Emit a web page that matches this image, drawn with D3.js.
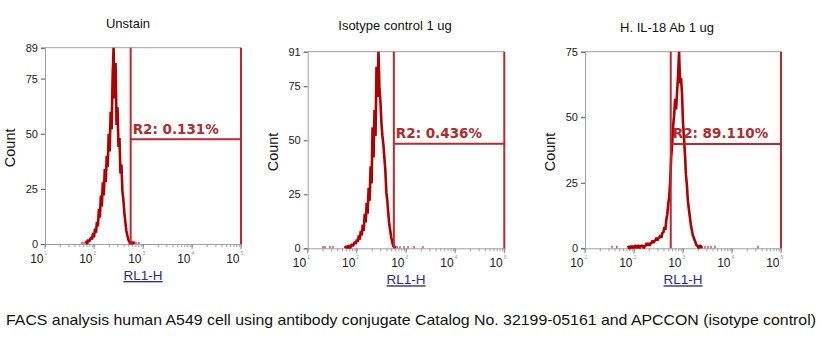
<!DOCTYPE html>
<meta charset="utf-8">
<style type="text/css">
    body {
        margin: 0;
        background: #fff;
    }
    svg {
        display: block;
    }
    text {
        font-family: "Liberation Sans", Arial, sans-serif;
    }
</style>
<body>
<script src="https://cdn.jsdelivr.net/npm/d3@7"></script>
<script>
// Panel texts
var titles = ["Unstain", "Isotype control 1 ug", "H. IL-18 Ab 1 ug"];
var yMax = [89, 91, 75];
var yTicks = [[0, 25, 50, 75, 89], [0, 25, 50, 75, 91], [0, 25, 50, 75]];
var xDecades = [1, 2, 3, 4, 5];
var xLabel = "RL1-H";
var yLabel = "Count";

// R2 gate: start / end on RL1-H, marker level in counts
var gateStart = [560, 566, 562];
var gateEnd = 100000;
var gateLevel = [47.5, 48.4, 39.8];
var gateLabels = ["R2: 0.131%", "R2: 0.436%", "R2: 89.110%"];

// Histogram bins (log10 of RL1-H, step 0.02 decade)
var binStep = 0.02;
var binStart = [1.82, 1.76, 1.88];
var countsUnstain = [1, 1, 0, 2, 1, 2, 3, 2, 5, 3, 7, 5, 10, 8, 16, 12, 22, 17, 28, 22,
    34, 28, 40, 35, 50, 42, 60, 52, 76, 89, 66, 82, 54, 62, 44, 48, 32, 36, 24, 20,
    14, 10, 6, 4, 2, 1, 0, 1, 0, 1, 0];
var countsIsotype = [0, 1, 0, 1, 1, 0, 1, 2, 1, 2, 3, 2, 4, 3, 6, 4, 8, 6, 11, 8,
    16, 12, 21, 16, 28, 22, 38, 30, 56, 42, 64, 52, 84, 70, 91, 74, 68, 58, 52, 48,
    42, 36, 26, 22, 16, 11, 8, 5, 3, 1, 1, 0];
var countsIL18 = [1, 0, 0, 1, 0, 1, 0, 1, 1, 0, 1, 1, 0, 1, 1, 1, 0, 1, 1, 2,
    1, 2, 1, 2, 2, 3, 2, 3, 3, 4, 3, 4, 4, 5, 4, 6, 6, 8, 7, 11,
    13, 17, 20, 26, 35, 40, 47, 51, 57, 53, 60, 66, 75, 63, 65, 59, 48, 42, 36, 28,
    24, 18, 15, 12, 9, 7, 5, 4, 3, 2, 1, 1, 0, 1, 1, 0];
var counts = [countsUnstain, countsIsotype, countsIL18];

// Single events away from the peak (log10 of RL1-H)
var sparseUnstain = [1.755, 1.796, 2.857, 2.918];
var sparseIsotype = [1.311, 1.352, 1.454, 1.515, 2.817, 2.878, 2.959, 3.041, 3.163, 3.346];
var sparseIL18 = [1.551, 1.65, 3.388, 3.449, 3.51, 3.571, 3.653, 4.531];
var sparse = [sparseUnstain, sparseIsotype, sparseIL18];

var caption = "FACS analysis human A549 cell using antibody conjugate Catalog No. 32199-05161 and APCCON (isotype control)";

// Layout
var panels = [
    {left: 45,    top: 47.7, bottom: 244,   width: 196,   titleX: 128, titleY: 28},
    {left: 307.7, top: 51.7, bottom: 248.3, width: 196.6, titleX: 395, titleY: 29.5},
    {left: 585,   top: 51.7, bottom: 248.3, width: 196,   titleX: 667, titleY: 32}
];

var histColor = "#b00000",
    gateColor = "#c0262c",
    axisColor = "#a0a0a0";

var svg = d3.select("body")
    .append("svg")
    .attr("width", 835)
    .attr("height", 353);

panels.forEach(function(p, k) {
    var x = d3.scaleLog().domain([10, 100000]).range([p.left, p.left + p.width]);
    var y = d3.scaleLinear().domain([0, yMax[k]]).range([p.bottom, p.top]);
    var g = svg.append("g");

    // title
    g.append("text")
        .attr("x", p.titleX)
        .attr("y", p.titleY)
        .attr("text-anchor", "middle")
        .style("font-size", "13px")
        .attr("fill", "#111")
        .text(titles[k]);

    // top frame line
    g.append("line")
        .attr("x1", p.left).attr("x2", p.left + p.width)
        .attr("y1", p.top).attr("y2", p.top)
        .attr("stroke", axisColor);

    // y axis
    var yAxis = g.append("g")
        .attr("transform", "translate(" + p.left + ",0)")
        .call(d3.axisLeft(y).tickValues(yTicks[k]).tickSize(4).tickPadding(3));
    yAxis.select(".domain").attr("stroke", axisColor);
    yAxis.selectAll(".tick line").attr("stroke", "#555");
    yAxis.selectAll(".tick text")
        .style("font-family", "'Liberation Sans', Arial, sans-serif")
        .style("font-size", "11px")
        .attr("fill", "#222");

    // x axis, minor and major ticks
    var xAxis = g.append("g")
        .attr("transform", "translate(0," + p.bottom + ")")
        .call(d3.axisBottom(x).tickSize(3).tickFormat(""));
    xAxis.select(".domain").attr("stroke", axisColor);
    xAxis.selectAll(".tick line").attr("stroke", axisColor);

    var dec = g.selectAll(".dec")
        .data(xDecades)
        .enter().append("g");
    dec.append("line")
        .attr("x1", function(d) { return x(Math.pow(10, d)); })
        .attr("x2", function(d) { return x(Math.pow(10, d)); })
        .attr("y1", p.bottom)
        .attr("y2", p.bottom + 5)
        .attr("stroke", "#888");
    dec.append("text")
        .attr("x", function(d) { return x(Math.pow(10, d)) - 1.5; })
        .attr("y", p.bottom + 19)
        .attr("text-anchor", "end")
        .style("font-size", "12px")
        .attr("fill", "#222")
        .text("10");
    dec.append("text")
        .attr("x", function(d) { return x(Math.pow(10, d)) - 0.5; })
        .attr("y", p.bottom + 11)
        .style("font-size", "5px")
        .attr("fill", "#999")
        .text(function(d) { return d; });

    // axis labels
    var cx = p.left + p.width / 2;
    g.append("text")
        .attr("x", cx)
        .attr("y", p.bottom + 36)
        .attr("text-anchor", "middle")
        .style("font-size", "13.5px")
        .style("text-decoration", "underline")
        .attr("fill", "#2b2b8c")
        .text(xLabel);
    g.append("text")
        .attr("transform", "translate(" + (p.left - 30) + "," + ((p.top + p.bottom) / 2 + 2) + ") rotate(-90)")
        .attr("text-anchor", "middle")
        .style("font-size", "14.5px")
        .attr("fill", "#111")
        .text(yLabel);

    // histogram
    var line = d3.line()
        .x(function(d, i) { return x(Math.pow(10, binStart[k] + i * binStep)); })
        .y(function(d) { return y(d); });
    g.append("path")
        .datum(counts[k])
        .attr("d", line)
        .attr("fill", "none")
        .attr("stroke", histColor)
        .attr("stroke-width", 2.6)
        .attr("stroke-linejoin", "bevel");

    g.selectAll(".ev")
        .data(sparse[k])
        .enter().append("line")
        .attr("x1", function(d) { return x(Math.pow(10, d)); })
        .attr("x2", function(d) { return x(Math.pow(10, d)); })
        .attr("y1", y(0))
        .attr("y2", y(1))
        .attr("stroke", histColor)
        .attr("stroke-width", 1);

    // gate R2
    var gx1 = x(gateStart[k]), gx2 = x(gateEnd), gy = y(gateLevel[k]);
    g.append("path")
        .attr("d", "M" + gx1 + "," + p.bottom + "V" + p.top + "M" + gx2 + "," + p.bottom + "V" + p.top +
            "M" + gx1 + "," + gy + "H" + gx2)
        .attr("fill", "none")
        .attr("stroke", gateColor)
        .attr("stroke-width", 2);
    g.append("text")
        .attr("x", gx1 + 2)
        .attr("y", gy - 5.5)
        .style("font-family", "'DejaVu Sans', Verdana, sans-serif")
        .style("font-size", "13.5px")
        .style("font-weight", "bold")
        .attr("fill", "#b22b2b")
        .text(gateLabels[k]);
});

svg.append("text")
    .attr("x", 6)
    .attr("y", 325)
    .attr("textLength", 810)
    .attr("lengthAdjust", "spacingAndGlyphs")
    .style("font-size", "15px")
    .attr("fill", "#111")
    .text(caption);
</script>
</body>
